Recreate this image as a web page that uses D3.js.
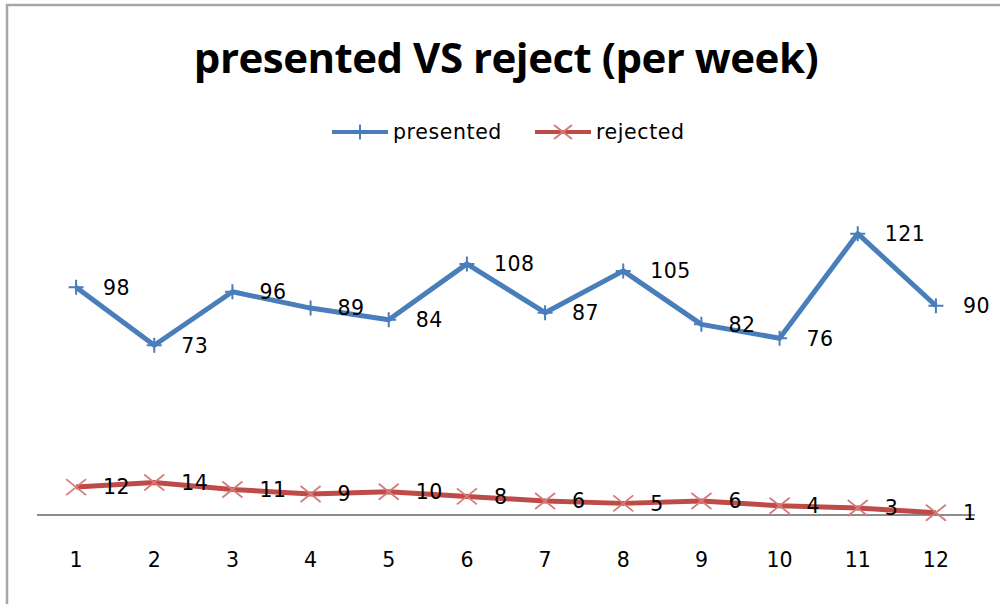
<!DOCTYPE html>
<html>
<head>
<meta charset="utf-8">
<script src="https://cdn.jsdelivr.net/npm/d3@7"></script>
<style>
  body { margin: 0; background: #fff; }
  svg { display: block; }
</style>
</head>
<body>
<div id="plot"></div>
<script>
// week numbers and weekly counts
var weeks = [1, 2, 3, 4, 5, 6, 7, 8, 9, 10, 11, 12];
var presented = [98, 73, 96, 89, 84, 108, 87, 105, 82, 76, 121, 90];
var rejected = [12, 14, 11, 9, 10, 8, 6, 5, 6, 4, 3, 1];
var seriesNames = ["presented", "rejected"];

var width = 1000, height = 604;
var blue = "#4a7ebb", red = "#be4b48";
var labelFont = "'DejaVu Sans', sans-serif";

var svg = d3.select("div#plot")
  .append("svg")
    .attr("width", width)
    .attr("height", height);

// chart frame (only top and left edges are visible in the crop)
svg.append("path")
  .attr("d", "M7,604 V5 H1000")
  .attr("fill", "none")
  .attr("stroke", "#a6a6a6")
  .attr("stroke-width", 2.5);

svg.append("text")
  .attr("x", 506)
  .attr("y", 73)
  .attr("text-anchor", "middle")
  .style("font-family", "'Open Sans', Lato, sans-serif")
  .style("font-weight", "bold")
  .style("font-size", "42px")
  .style("letter-spacing", "-0.5px")
  .text("presented VS reject (per week)");

var x = d3.scaleBand()
  .domain(weeks)
  .range([37, 975]);
var cx = d => x(d) + x.bandwidth() / 2;

var y = d3.scaleLinear()
  .domain([0, 140])
  .range([515, 189.5]);

// x axis line + labels
svg.append("line")
  .attr("x1", x.range()[0]).attr("x2", x.range()[1])
  .attr("y1", y(0)).attr("y2", y(0))
  .attr("stroke", "#8c8c8c")
  .attr("stroke-width", 2);

svg.selectAll(".xlab")
  .data(weeks)
  .join("text")
    .attr("class", "xlab")
    .attr("x", d => cx(d))
    .attr("y", 567)
    .attr("text-anchor", "middle")
    .style("font-family", labelFont)
    .style("font-size", "20.5px")
    .text(d => d);

var line = d3.line()
  .x((d, i) => cx(weeks[i]))
  .y(d => y(d));

function plusPath(px, py, s) {
  return `M${px - s},${py}H${px + s}M${px},${py - s}V${py + s}`;
}
function crossPath(px, py, sx, sy) {
  return `M${px - sx},${py - sy}L${px + sx},${py + sy}M${px - sx},${py + sy}L${px + sx},${py - sy}`;
}

// presented
svg.append("path")
  .datum(presented)
  .attr("d", line)
  .attr("fill", "none")
  .attr("stroke", blue)
  .attr("stroke-width", 5)
  .attr("stroke-linejoin", "round");

svg.selectAll(".pmark")
  .data(presented)
  .join("path")
    .attr("class", "pmark")
    .attr("d", (d, i) => plusPath(cx(weeks[i]), y(d), 7.5))
    .attr("stroke", blue)
    .attr("stroke-width", 2);

// rejected
svg.append("path")
  .datum(rejected)
  .attr("d", line)
  .attr("fill", "none")
  .attr("stroke", red)
  .attr("stroke-width", 5)
  .attr("stroke-linejoin", "round");

svg.selectAll(".rmark")
  .data(rejected)
  .join("path")
    .attr("class", "rmark")
    .attr("d", (d, i) => crossPath(cx(weeks[i]), y(d), 10, 8))
    .attr("stroke", "#d77a78")
    .attr("stroke-width", 1.8);

// data labels
function labels(data, cls) {
  svg.selectAll("." + cls)
    .data(data)
    .join("text")
      .attr("class", cls)
      .attr("x", (d, i) => cx(weeks[i]) + 27)
      .attr("y", d => y(d))
      .attr("dy", "0.36em")
      .style("font-family", labelFont)
      .style("font-size", "20.5px")
      .style("letter-spacing", "0.5px")
      .text(d => d);
}
labels(presented, "plab");
labels(rejected, "rlab");

// legend
var legend = svg.append("g");
var legendItems = [
  { name: seriesNames[0], color: blue, x0: 332 },
  { name: seriesNames[1], color: red, x0: 535 }
];
legendItems.forEach(function(it, k) {
  legend.append("line")
    .attr("x1", it.x0).attr("x2", it.x0 + 56)
    .attr("y1", 132).attr("y2", 132)
    .attr("stroke", it.color)
    .attr("stroke-width", 4);
  legend.append("path")
    .attr("d", k === 0 ? plusPath(it.x0 + 28, 132, 7.5) : crossPath(it.x0 + 28, 132, 9, 7))
    .attr("stroke", k === 0 ? blue : "#d77a78")
    .attr("stroke-width", 2);
  legend.append("text")
    .attr("x", it.x0 + 61)
    .attr("y", 132)
    .attr("dy", "0.36em")
    .style("font-family", labelFont)
    .style("font-size", "20.5px")
    .style("letter-spacing", "0.6px")
    .text(it.name);
});
</script>
</body>
</html>
